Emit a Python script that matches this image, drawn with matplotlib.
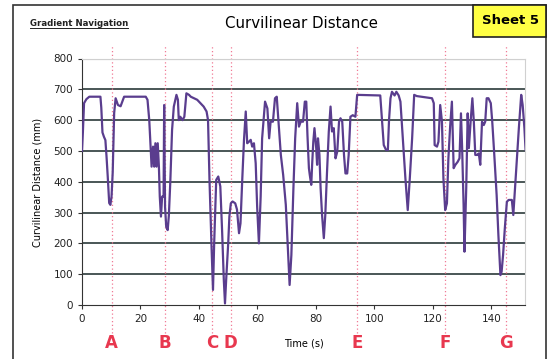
import matplotlib
matplotlib.use("Agg")
import matplotlib.pyplot as plt
from matplotlib.patches import Rectangle
import matplotlib.transforms as mtransforms

# time (s) and curvilinear distance (mm)
time_s = [0, 0.3, 0.7, 1.5, 2.5, 6.3, 6.6, 7.0, 7.5, 8.0, 8.4, 8.8, 9.3, 9.7, 10.1,
          10.5, 11.0, 11.5, 12.3, 13.2, 14.4, 21.8, 22.4, 23.0, 23.8, 24.3, 24.7,
          25.1, 25.5, 25.9, 26.3, 26.6, 27.0, 27.4, 27.9, 28.1, 28.4, 28.8, 29.3,
          29.7, 30.2, 30.8, 31.4, 32.3, 32.8, 33.1, 33.6, 34.4, 35.0, 35.7, 36.6,
          37.2, 38.3, 39.4, 40.5, 41.6, 42.6, 43.1, 43.6, 44.3, 44.8, 45.2, 45.9,
          46.6, 47.3, 47.9, 48.5, 48.9, 49.3, 50.0, 50.4, 50.9, 51.5, 52.4, 53.0,
          53.7, 54.2, 54.8, 55.4, 56.0, 56.5, 57.1, 57.7, 58.2, 58.8, 59.4, 59.9,
          60.5, 61.1, 61.6, 62.6, 63.4, 64.0, 64.5, 65.3, 66.0, 66.6, 67.2, 68.0,
          68.8, 69.7, 70.5, 71.0, 71.6, 72.3, 72.9, 73.6, 74.2, 74.8, 75.6, 76.2,
          76.7, 77.1, 77.6, 77.9, 78.4, 78.7, 79.1, 79.5, 80.1, 80.4, 80.7, 81.2,
          81.6, 82.1, 82.7, 83.2, 83.8, 84.4, 85.0, 85.5, 86.1, 86.7, 87.3, 87.9,
          88.4, 89.0, 89.6, 90.1, 90.7, 91.2, 91.8, 92.6, 93.5, 94.1, 102.0, 102.6,
          103.2, 104.0, 104.6, 105.0, 105.5, 106.0, 106.9, 107.5, 108.3, 108.9,
          109.7, 110.6, 111.4, 112.1, 112.9, 113.6, 114.5, 119.7, 120.3, 120.6,
          121.4, 121.9, 122.5, 123.1, 123.6, 124.2, 124.8, 125.3, 125.9, 126.5,
          127.1, 127.7, 128.5, 129.1, 129.6, 130.0, 130.5, 130.8, 131.4, 131.9,
          132.3, 132.9, 133.5, 134.0, 134.5, 135.2, 135.7, 136.2, 136.8, 137.4,
          137.9, 138.4, 139.0, 139.8, 140.3, 141.0, 141.8, 142.4, 143.1, 143.5,
          144.0, 144.6, 145.3, 145.9, 147.0, 147.5, 148.1, 148.6, 149.4, 150.2,
          150.7, 151.3, 151.7]
distance_mm = [500, 560, 655, 668, 676, 676, 640, 560, 546, 535, 480, 417, 331, 325, 352,
               430, 623, 671, 649, 645, 676, 676, 666, 600, 449, 514, 449,
               525, 449, 525, 449, 352, 287, 352, 352, 649, 319, 254, 243,
               290, 400, 568, 644, 682, 666, 600, 611, 600, 611, 687, 682,
               676, 671, 666, 655, 644, 628, 600, 406, 189, 49, 200, 406,
               417, 385, 244, 81, 5, 81, 200, 287, 330, 336, 330, 310,
               233, 265, 406, 536, 628, 525, 530, 536, 514, 525, 460, 319,
               200, 352, 541, 660, 638, 541, 595, 595, 671, 676, 595, 487,
               422, 325, 162, 65, 162, 379, 541, 655, 579, 595, 595, 660,
               660, 552, 444, 422, 390, 455, 530, 574, 509, 455, 541, 487,
               379, 292, 217, 292, 433, 563, 644, 563, 574, 476, 498, 595,
               606, 595, 487, 427, 427, 487, 611, 616, 611, 682, 680, 600,
               519, 503, 503, 600, 671, 692, 680, 692, 680, 660,
               541, 411, 308, 411, 541, 682, 678, 671, 655, 519,
               514, 530, 649, 595, 411, 308, 330, 476, 580, 660,
               444, 455, 465, 476, 622, 509, 325, 173, 379, 622,
               509, 595, 671, 595, 487, 487, 492, 455, 595, 584,
               595, 671, 671, 655, 595, 487, 357, 227, 97, 108,
               162, 249, 335, 341, 341, 292, 379, 455, 574, 682,
               649, 574, 503]

marker_times = [10.2, 28.4, 44.6, 50.8, 94.1, 124.2, 144.9]
marker_labels = ['A', 'B', 'C', 'D', 'E', 'F', 'G']

fig = plt.figure(figsize=(5.52, 3.59), dpi=100)
fig.patch.set_facecolor('white')

# outer sheet frame
fig.add_artist(Rectangle((13/552, -0.02), (546-13)/552, 1 - 5/359 + 0.02,
                         transform=fig.transFigure, fill=False,
                         edgecolor='#333333', lw=1.2))

ax = fig.add_axes([82/552, 1 - 305/359, (525-82)/552, (305-58.5)/359])
ax.set_xlim(0, 151.5)
ax.set_ylim(0, 800)

for y in range(100, 800, 100):
    ax.axhline(y, color='#4a5656', lw=1.4, zorder=1)
ax.axhline(800, color='#c8c8c8', lw=0.8, zorder=1)

ax.plot(time_s, distance_mm, color='#5a3d8e', lw=1.6, zorder=3)

trans = mtransforms.blended_transform_factory(ax.transData, ax.transAxes)
for t, lab in zip(marker_times, marker_labels):
    ax.plot([t, t], [-0.115, 1.055], transform=trans, color='#f07a95',
             lw=0.9, ls=(0, (1, 2)), clip_on=False, zorder=2)
    ax.text(t, -0.155, lab, transform=trans, color='#e8384f', fontsize=12,
            fontweight='bold', ha='center', va='center')

ax.set_xticks(range(0, 141, 20))
ax.set_yticks(range(0, 801, 100))
ax.tick_params(labelsize=7.5, length=3, color='#333333', labelcolor='#222222')
for s in ['top', 'right']:
    ax.spines[s].set_color('#d0d0d0')
    ax.spines[s].set_linewidth(0.8)
for s in ['left', 'bottom']:
    ax.spines[s].set_color('#333333')

ax.text(0.5, -0.155, 'Time (s)', transform=ax.transAxes, fontsize=7,
        ha='center', va='center')
fig.text(37/552, 1 - 182/359, 'Curvilinear Distance (mm)', rotation=90,
         fontsize=7, ha='center', va='center')

fig.text(301/552, 1 - 23/359, 'Curvilinear Distance', fontsize=10.8,
         ha='center', va='center')
fig.text(30/552, 1 - 23/359, 'Gradient Navigation', fontsize=6.2,
         fontweight='bold', ha='left', va='center', color='#222222')
fig.add_artist(plt.Line2D([30/552, 128/552], [1 - 27.5/359, 1 - 27.5/359],
                          transform=fig.transFigure, color='#222222', lw=0.7))

fig.add_artist(Rectangle((473/552, 1 - 37/359), (546-473)/552, 32/359,
                         transform=fig.transFigure, facecolor='#ffff44',
                         edgecolor='#222222', lw=1.2))
fig.text(511/552, 1 - 21/359, 'Sheet 5', fontsize=9.5, fontweight='bold',
         ha='center', va='center')

fig.savefig('out.png', dpi=100)
